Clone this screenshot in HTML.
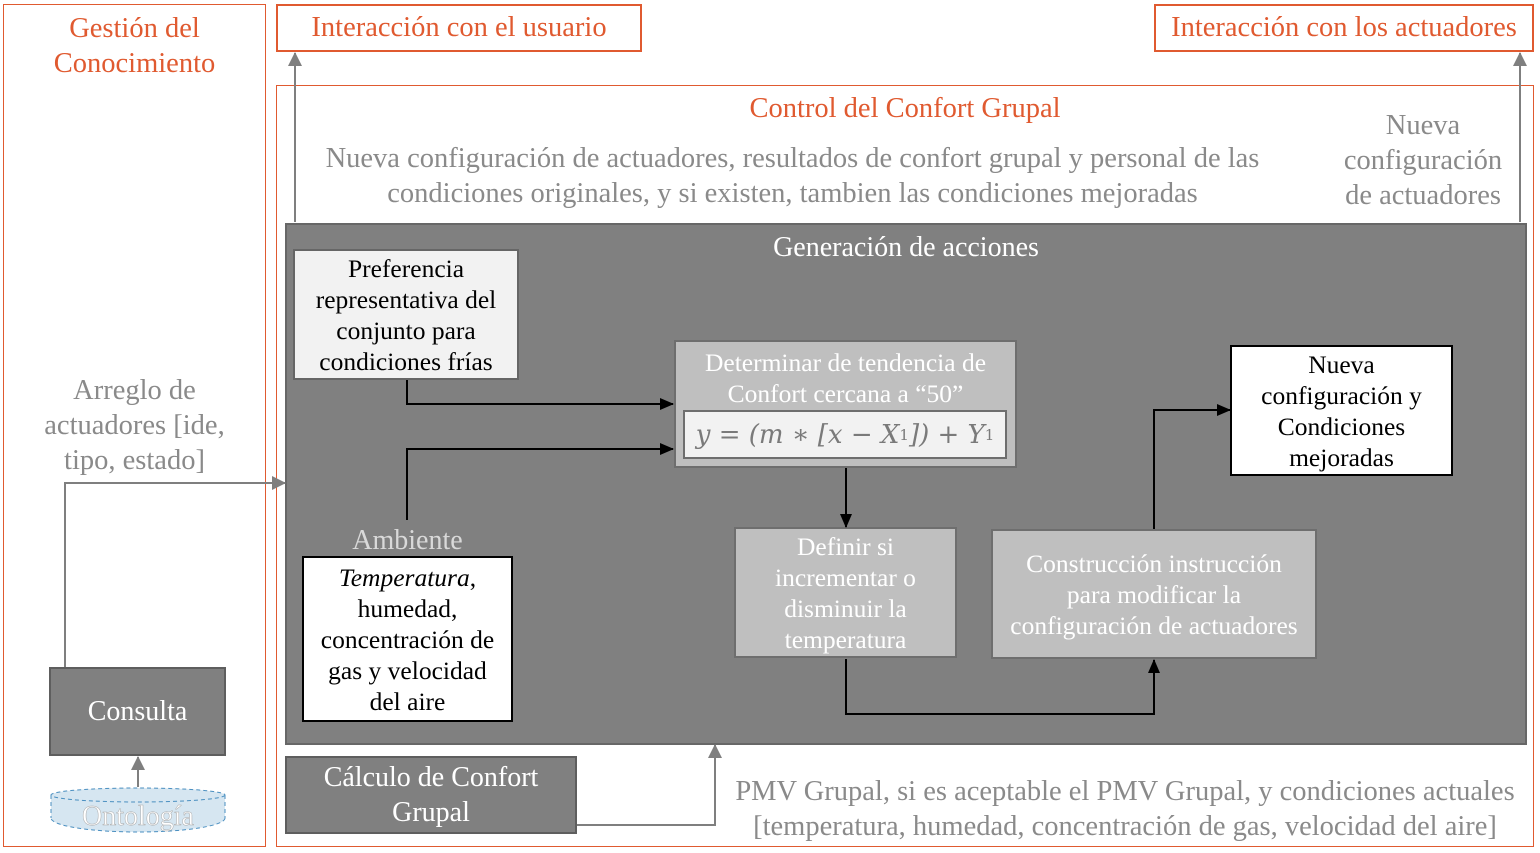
<!DOCTYPE html>
<html><head><meta charset="utf-8"><style>
body{margin:0;width:1540px;height:853px;background:#fff;position:relative;overflow:hidden;font-family:"Liberation Serif","Times New Roman",serif}
.a{position:absolute;box-sizing:border-box;white-space:nowrap}
.c{display:flex;align-items:center;justify-content:center;text-align:center}
.or{border:1.5px solid #e05a30}
.ot{color:#e05a30;font-size:28.5px}
.gt{color:#8a8a8a;font-size:28.5px;line-height:35px;text-align:center}
.bx{font-size:25.5px;line-height:31px}
</style></head><body>
<div class="a or" style="left:3px;top:4px;width:263px;height:843px"></div>
<div class="a ot" style="left:3px;top:11px;width:263px;text-align:center;line-height:35px">Gestión del<br>Conocimiento</div>
<div class="a or c ot" style="left:276px;top:4px;width:366px;height:48px;border-width:2px">Interacción con el usuario</div>
<div class="a or c ot" style="left:1154px;top:4px;width:380px;height:48px;border-width:2px">Interacción con los actuadores</div>
<div class="a or" style="left:276px;top:85px;width:1258px;height:762px"></div>
<div class="a ot" style="left:276px;top:92px;width:1258px;text-align:center;line-height:34px">Control del Confort Grupal</div>
<div class="a gt" style="left:290px;top:141px;width:1005px">Nueva configuración de actuadores, resultados de confort grupal y personal de las<br>condiciones originales, y si existen, tambien las condiciones mejoradas</div>
<div class="a gt" style="left:1323px;top:108px;width:200px">Nueva<br>configuración<br>de actuadores</div>
<div class="a gt" style="left:3px;top:373px;width:263px">Arreglo de<br>actuadores [ide,<br>tipo, estado]</div>

<div class="a" style="left:285px;top:223px;width:1242px;height:522px;background:#808080;border:2px solid #676767"></div>
<div class="a" style="left:285px;top:231px;width:1242px;text-align:center;color:#fff;font-size:28px;line-height:34px">Generación de acciones</div>

<div class="a c bx" style="left:293px;top:249px;width:226px;height:131px;background:#f2f2f2;border:2px solid #666">Preferencia<br>representativa del<br>conjunto para<br>condiciones frías</div>
<div class="a" style="left:674px;top:340px;width:343px;height:128px;background:#bfbfbf;border:2px solid #6e6e6e"></div>
<div class="a bx" style="left:674px;top:347px;width:343px;text-align:center;color:#fff">Determinar de tendencia de<br>Confort cercana a “50”</div>
<div class="a c" style="left:683px;top:410px;width:324px;height:49px;background:#f2f2f2;border:2px solid #6e6e6e;color:#7a7a7a;font-size:26px;font-style:italic;font-family:'DejaVu Serif','Liberation Serif',serif">y = (m ∗ [x − X<sub style="font-size:15px;font-style:normal">1</sub>]) + Y<sub style="font-size:15px;font-style:normal">1</sub></div>
<div class="a c bx" style="left:1230px;top:345px;width:223px;height:131px;background:#fff;border:2px solid #000">Nueva<br>configuración y<br>Condiciones<br>mejoradas</div>
<div class="a" style="left:303px;top:524px;width:209px;text-align:center;color:#d9d9d9;font-size:28px;line-height:34px">Ambiente</div>
<div class="a c bx" style="left:302px;top:556px;width:211px;height:166px;background:#fff;border:2px solid #000"><div><i>Temperatura</i>,<br>humedad,<br>concentración de<br>gas y velocidad<br>del aire</div></div>
<div class="a c bx" style="left:734px;top:527px;width:223px;height:131px;background:#bfbfbf;border:2px solid #6e6e6e;color:#fff">Definir si<br>incrementar o<br>disminuir la<br>temperatura</div>
<div class="a c bx" style="left:991px;top:529px;width:326px;height:130px;background:#bfbfbf;border:2px solid #6e6e6e;color:#fff">Construcción instrucción<br>para modificar la<br>configuración de actuadores</div>

<div class="a c" style="left:49px;top:667px;width:177px;height:89px;background:#808080;border:2px solid #5e5e5e;color:#fff;font-size:28px">Consulta</div>
<svg class="a" style="left:0;top:0" width="1540" height="853">
<defs>
<marker id="gb" markerWidth="14" markerHeight="14" refX="13" refY="7" orient="auto" markerUnits="userSpaceOnUse"><path d="M0,0L14,7L0,14z" fill="#7f7f7f"/></marker>
<marker id="k" markerWidth="14" markerHeight="12" refX="13" refY="6" orient="auto" markerUnits="userSpaceOnUse"><path d="M0,0L14,6L0,12z" fill="#000"/></marker>
</defs>
<ellipse cx="138" cy="818" rx="87" ry="14" fill="#d6e6f1" stroke="#4a8fc0" stroke-dasharray="4,3"/>
<rect x="51" y="795" width="174" height="23" fill="#d6e6f1"/>
<path d="M51,795V818M225,795V818" stroke="#4a8fc0" stroke-dasharray="4,3"/>
<ellipse cx="138" cy="795" rx="87" ry="7" fill="#d6e6f1" stroke="#4a8fc0" stroke-dasharray="4,3"/>
<text x="138" y="825" text-anchor="middle" font-family="Liberation Serif" font-size="28" fill="#fff" stroke="#aaa" stroke-width="0.5">Ontología</text>
<g stroke="#7f7f7f" stroke-width="2" fill="none">
<path d="M295,222V53" marker-end="url(#gb)"/>
<path d="M1520,222V53" marker-end="url(#gb)"/>
<path d="M65,667V483H285" marker-end="url(#gb)"/>
<path d="M138,787V757" marker-end="url(#gb)"/>
<path d="M577,825H715V745" marker-end="url(#gb)"/>
</g>
<g stroke="#000" stroke-width="2" fill="none">
<path d="M407,380V404H673" marker-end="url(#k)"/>
<path d="M407,520V449H673" marker-end="url(#k)"/>
<path d="M846,468V527" marker-end="url(#k)"/>
<path d="M846,659V714H1154V660" marker-end="url(#k)"/>
<path d="M1154,529V410H1230" marker-end="url(#k)"/>
</g>
</svg>
<div class="a c" style="left:285px;top:756px;width:292px;height:78px;background:#808080;border:2px solid #5e5e5e;color:#fff;font-size:28px;line-height:35px">Cálculo de Confort<br>Grupal</div>
<div class="a gt" style="left:720px;top:774px;width:810px">PMV Grupal, si es aceptable el PMV Grupal, y condiciones actuales<br>[temperatura, humedad, concentración de gas, velocidad del aire]</div>
</body></html>
